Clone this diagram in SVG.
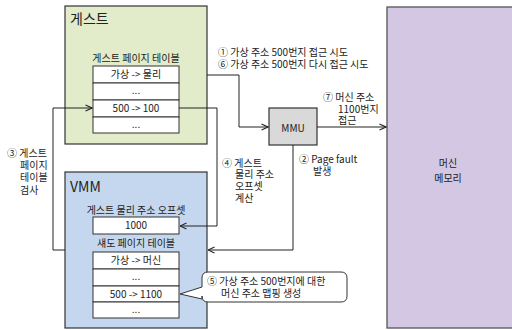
<svg xmlns="http://www.w3.org/2000/svg" width="512" height="330" viewBox="0 0 512 330">
<defs>
<marker id="arr" viewBox="0 0 8 8" refX="7.5" refY="4" markerWidth="8" markerHeight="8" markerUnits="userSpaceOnUse" orient="auto">
<path d="M1,1 L7.5,4 L1,7" fill="none" stroke="#222" stroke-width="1.1"/>
</marker>
</defs>
<style>
text{font-family:"Noto Sans CJK KR","Noto Sans",sans-serif;fill:#222;font-size:10px}
.c{text-anchor:middle}
.t{font-size:14px}
.cell{fill:#fff;stroke:#333;stroke-width:1}
.ln{fill:none;stroke:#222;stroke-width:1}
</style>
<rect width="512" height="330" fill="#fff"/>
<g id="memory">
<rect x="387" y="7" width="130" height="321" fill="#d3c7e3" stroke="#555" stroke-width="1.3"/>
<text class="c" x="448" y="167" font-size="11">머신</text>
<text class="c" x="448" y="182" font-size="11">메모리</text>
</g>
<g id="guest">
<rect x="65" y="6" width="142" height="138" fill="#e3ecca" stroke="#333" stroke-width="1.2"/>
<text class="t" x="70" y="24">게스트</text>
<text class="c" x="136" y="62">게스트 페이지 테이블</text>
<rect class="cell" x="93" y="66" width="86" height="17"/>
<rect class="cell" x="93" y="83" width="86" height="17"/>
<rect class="cell" x="93" y="100" width="86" height="17"/>
<rect class="cell" x="93" y="117" width="86" height="16"/>
<text class="c" x="136" y="78">가상 -&gt; 물리</text>
<text class="c" x="136" y="94" font-size="8">...</text>
<text class="c" x="136" y="112">500 -&gt; 100</text>
<text class="c" x="136" y="128" font-size="8">...</text>
</g>
<g id="mmu">
<rect x="269" y="108" width="48" height="37" fill="#d9d9d9" stroke="#333" stroke-width="1.2"/>
<text class="c" x="293" y="132" font-size="14">MMU</text>
</g>
<g id="vmm">
<rect x="65" y="172" width="142" height="156" fill="#c5d7ee" stroke="#333" stroke-width="1.2"/>
<text class="t" x="70" y="192">VMM</text>
<text class="c" x="136" y="214">게스트 물리 주소 오프셋</text>
<rect class="cell" x="93" y="217" width="86" height="17"/>
<text class="c" x="136" y="229">1000</text>
<text class="c" x="136" y="247">섀도 페이지 테이블</text>
<rect class="cell" x="93" y="252" width="86" height="17"/>
<rect class="cell" x="93" y="269" width="86" height="17"/>
<rect class="cell" x="93" y="286" width="86" height="16"/>
<rect class="cell" x="93" y="302" width="86" height="16"/>
<text class="c" x="136" y="264">가상 -&gt; 머신</text>
<text class="c" x="136" y="280" font-size="8">...</text>
<text class="c" x="136" y="298">500 -&gt; 1100</text>
<text class="c" x="136" y="313" font-size="8">...</text>
</g>
<g id="connectors">
<path class="ln" d="M207,75 H239 V127 H268" marker-end="url(#arr)"/>
<path class="ln" d="M317,127 H386" marker-end="url(#arr)"/>
<path class="ln" d="M293,145 V250 H208" marker-end="url(#arr)"/>
<path class="ln" d="M179,108 H217 V226 H180" marker-end="url(#arr)"/>
<path class="ln" d="M65,250 H53 V108 H92" marker-end="url(#arr)"/>
</g>
<g id="labels">
<text x="218" y="56">① 가상 주소 500번지 접근 시도</text>
<text x="218" y="68">⑥ 가상 주소 500번지 다시 접근 시도</text>
<text x="323" y="101">⑦ 머신 주소</text>
<text x="338" y="113">1100번지</text>
<text x="338" y="124">접근</text>
<text x="299" y="163">② Page fault</text>
<text x="313" y="175">발생</text>
<text x="222" y="167">④ 게스트</text>
<text x="235" y="178">물리 주소</text>
<text x="235" y="190">오프셋</text>
<text x="235" y="202">계산</text>
<text x="7" y="157">③ 게스트</text>
<text x="20" y="169">페이지</text>
<text x="20" y="181">테이블</text>
<text x="20" y="194">검사</text>
</g>
<g id="callout">
<path d="M208,272 H341 Q347,272 347,278 V296 Q347,302 341,302 H208 Q202,302 202,296 V299 L180,294 L202,287 V278 Q202,272 208,272 Z" fill="#fff" stroke="#333" stroke-width="1"/>
<text x="207" y="285">⑤ 가상 주소 500번지에 대한</text>
<text x="221" y="297">머신 주소 맵핑 생성</text>
</g>
</svg>
